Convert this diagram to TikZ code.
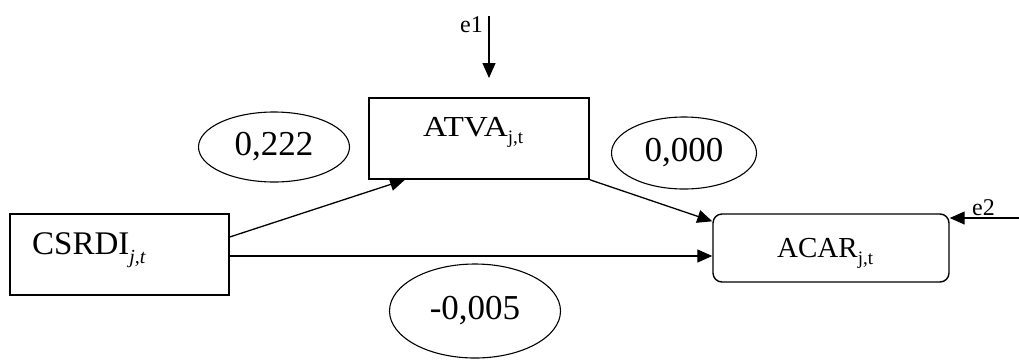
\documentclass[tikz,border=0pt]{standalone}
\usepackage{fontspec}
\setmainfont{Liberation Serif}
\usetikzlibrary{arrows.meta,shapes.geometric}
\begin{document}
\begin{tikzpicture}[x=1pt,y=-1pt,
  box/.style={draw,line width=1.4pt,inner sep=0pt},
  oval/.style={draw,ellipse,line width=1.1pt,inner sep=0pt,font=\fontsize{35}{35}\selectfont},
  arr/.style={line width=1.3pt,-{Triangle[length=15pt,width=13pt]}},
  lbl/.style={inner sep=0pt,anchor=base west}]
\useasboundingbox (0,0) rectangle (1019,360);
% boxes
\node[box,minimum width=219pt,minimum height=81pt] (csrdi) at (119.5,254.5) {};
\node[box,minimum width=220pt,minimum height=81pt] (atva) at (479,138.5) {};
\node[box,rounded corners=9pt,minimum width=236pt,minimum height=68pt] (acar) at (831,248) {};
% box texts
\node[lbl,font=\fontsize{33}{33}\selectfont] (csrditxt) at (32,254)
  {CSRDI\raisebox{-9pt}{\fontsize{20}{20}\selectfont\itshape j,t}};
\node[lbl,font=\fontsize{29}{29}\selectfont] (atvatxt) at (423,136)
  {\scalebox{1.15}[1]{ATVA}\raisebox{-7pt}{\fontsize{19}{19}\selectfont j,t}};
\node[lbl,font=\fontsize{29}{29}\selectfont] (acartxt) at (777,257)
  {ACAR\raisebox{-7pt}{\fontsize{19}{19}\selectfont j,t}};
% coefficients
\node[oval,minimum width=151pt,minimum height=70pt] (c1) at (274,147) {0,222};
\node[oval,minimum width=145pt,minimum height=72pt] (c2) at (684,153) {0,000};
\node[oval,minimum width=171pt,minimum height=94pt] (c3) at (475,311) {-0,005};
% errors
\node[lbl,font=\fontsize{24}{24}\selectfont] (e1) at (460,32) {e1};
\node[lbl,font=\fontsize{24}{24}\selectfont] (e2) at (972,215) {e2};
\coordinate (e1top) at (489,16);
\coordinate (e1tip) at (489,78);
\coordinate (e2start) at (1019,218);
% connectors
\draw[arr] (e1top) -- (e1tip);
\draw[arr] (e2start) -- ([yshift=30pt]acar.east);
\draw[arr] ([yshift=17.5pt]csrdi.east) -- ([xshift=-74pt]atva.south);
\draw[arr] ([yshift=-1.5pt]csrdi.east) -- ([yshift=-1.5pt]csrdi.east -| acar.west);
\draw[arr] (atva.south east) -- ([yshift=-8pt]acar.north west);
\end{tikzpicture}
\end{document}
